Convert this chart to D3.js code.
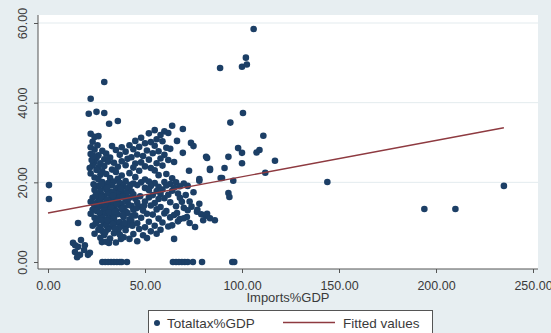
<!DOCTYPE html>
<html>
<head>
<meta charset="utf-8">
<script src="https://cdn.jsdelivr.net/npm/d3@7"></script>
<style>
  html, body { margin: 0; padding: 0; background: #e7eef1; }
  svg { display: block; font-family: Arial, "Liberation Sans", sans-serif; }
</style>
</head>
<body>
<svg id="chart" width="551" height="333"></svg>
<script>
// Axis ticks
const xTicks = [0, 50, 100, 150, 200, 250];
const yTicks = [0, 20, 40, 60];
const gridTicks = [20, 40, 60];

// Observations: [Imports%GDP, Totaltax%GDP]
const observations = [
  // sparse and outlying countries
  [0.5,19.3],[0.5,15.8],
  [29,45.2],[22,41],[21,37.2],[25,37.7],[29,37.4],[31.5,34.7],[36,35.4],
  [22,32.2],[24,31.4],[26,31.6],
  [106,58.5],[102,51.3],[100,49],[102.5,49.6],[88.7,48.7],
  [100.5,37.4],[94,35],[111,31.7],[98,28.6],[100,27.4],[109,28.1],[107.5,27.5],
  [82,26.1],[93,26.4],[100,24.8],[117,25.4],[83.5,23.1],[91,23.6],[112,22.4],
  [89,21.1],[95.5,20.4],[78,20.4],[144,20.1],[93,17.3],[93.5,16.3],
  [81.5,11.6],[83.5,11],[86,10.5],[194,13.3],[210,13.3],[235,19.1],
  [64,34.2],[69.5,33.4],[66.5,30.4],[73.7,29.9],[75,29.1],[81.5,26.4],[69.5,27.4],
  [83.5,23.4],[72.7,22.9],[78,20.8],[89.7,21.1],
  [15.5,9.8],[65,5.8],[37.6,5.8],[31.4,4.8],[27.8,5],
  [66.5,12.3],[71.6,11.3],[76.8,12.6],[75.8,8.8],[80,10.5],
  [72,19.1],[75,17.5],[68,16.1],[73,15.2],[78,14.6],[70,13.6],
  // low-tax group
  [12.9,4.8],[14,4.2],[15.5,3.8],[13.9,2.5],[16.5,1.8],[18.6,3],[20.6,1.8],
  [17,5.5],[21.6,2.3],[15,1.2],[19,4.2],
  // zero tax records
  [28,0],[29.5,0],[31,0],[32.5,0],[34,0],[35.5,0],[37,0],[38,0],[40.7,0],
  [64.4,0],[66,0],[67.5,0],[69,0],[70.5,0],[72,0],[74.7,0],[79.4,0],[95,0],[96,0],
  // upper group
  [55,33.1],[60,32.8],
  [52,32.3],[58,31.9],[62,32.4],
  [48,31.2],[56,30.8],
  [23,30.2],[45,30.4],[50,29.8],[53,30.1],[59,30.3],
  [33,29.1],[38,28.8],[42,29.3],[47,28.9],[55,29.2],[61,28.7],
  [24,28.2],[28,27.9],[35,28.1],[40,27.7],[44,28.3],[51,28.0],[57,27.8],[63,28.4],
  [22,27.1],[26,26.8],[30,27.2],[37,26.9],[46,27.0],[49,26.6],[54,27.3],[60,26.9],
  [25,26.1],[29,25.8],[32,26.2],[41,25.9],[43,26.3],[52,25.7],[58,26.0],[62,25.6],
  [24,25.1],[27,24.8],[31,25.2],[34,24.9],[38,25.3],[45,24.7],[48,25.0],[56,24.8],[65,25.1],
  [23,24.2],[26,23.8],[29,24.1],[36,23.9],[40,24.3],[44,23.7],[50,24.0],[53,23.6],[59,24.2],
  [25,23.1],[28,22.8],[33,23.2],[35,22.6],[47,22.9],[55,23.0],
  [22,22.2],[27,21.9],[30,22.1],[38,21.7],[42,22.3],[57,21.8],[61,22.1],
  [24,21.2],[26,20.8],[32,21.1],[36,20.9],[45,21.3],[50,20.7],[64,21.0],
  [22.5,25.6],[23.5,26.6],[21.5,23.6],[22,28.8],[25.5,29.3],
  // main group
  [28,20.1],[31,19.8],[34,20.2],[37,19.9],[40,20.3],[44,19.7],[48,20.0],[52,20.2],[55,19.8],[60,20.1],[63,19.6],[66,20.0],[70,19.7],
  [26,19.1],[29,18.9],[33,19.2],[36,18.7],[39,19.0],[42,18.8],[46,19.3],[50,18.6],[53,19.1],[57,18.9],[61,19.2],[65,18.7],[68,19.0],
  [24,18.1],[27,17.8],[30,18.2],[32,17.6],[35,18.0],[38,17.9],[41,18.3],[43,17.7],[52,18.1],[56,17.8],[59,18.2],[64,17.9],
  [25,17.1],[28,16.8],[31,17.2],[34,16.9],[36,17.3],[39,16.7],[44,17.0],[54,16.8],[58,17.1],[62,16.9],[67,17.2],[71,16.8],
  [23,16.1],[26,15.9],[29,16.2],[32,15.8],[35,16.0],[37,16.3],[40,15.7],[42,16.1],[45,15.9],[52,16.2],[57,15.8],[60,16.0],
  [22,15.1],[25,14.8],[27,15.2],[30,14.9],[33,15.0],[36,15.3],[38,14.7],[41,15.1],[46,14.9],[50,15.2],[55,14.8],[63,15.0],[69,15.1],
  [24,14.1],[26,13.8],[28,14.2],[31,13.9],[34,14.0],[37,14.3],[39,13.7],[43,14.1],[47,13.9],[53,14.2],[58,13.8],[66,14.0],[74,13.9],
  [23,13.1],[25,12.8],[29,13.2],[32,12.9],[35,13.0],[38,13.3],[40,12.7],[44,13.1],[49,12.9],[56,13.2],[61,12.8],[72,13.0],[77,13.1],
  [22,12.1],[27,11.9],[30,12.2],[33,11.8],[36,12.0],[41,12.3],[45,11.7],[51,12.1],[54,11.9],[60,12.2],[65,11.8],[79,12.0],[82,12.1],
  [24,11.1],[26,10.8],[28,11.2],[31,10.9],[34,11.0],[39,11.3],[42,10.7],[48,11.1],[57,10.9],[63,11.2],[68,10.8],[70,11.0],
  [25,10.1],[29,9.8],[32,10.2],[35,9.9],[37,10.0],[43,10.3],[46,9.7],[52,10.1],[59,9.9],[67,10.2],[73,9.8],
  [23,9.1],[27,8.8],[30,9.2],[33,8.9],[38,9.0],[41,9.3],[50,8.7],[55,9.1],[62,8.9],[64,9.2],
  [26,8.1],[28,7.8],[31,8.2],[36,7.9],[40,8.0],[47,8.3],[53,7.7],[58,8.1],
  [24,7.1],[29,6.8],[34,7.2],[37,6.9],[44,7.0],[49,6.7],[56,7.1],
  [27,6.1],[32,5.9],[39,6.2],[42,5.8],[51,6.0],
  [30,5.1],[35,4.9],[46,5.2],
  [23.5,19.5],[27.5,19.6],[30.5,18.6],[33.5,17.5],[37.5,18.5],[40.5,17.2],[42.5,19.4],
  [24.5,16.6],[27.5,16.3],[30.5,15.6],[33.5,16.6],[38.5,16.4],[41.5,14.3],[23.5,14.6],
  [29.5,14.4],[32.5,13.6],[35.5,14.5],[26.5,12.4],[31.5,12.5],[34.5,12.6],[38.5,11.8],
  [43.5,11.6],[24.5,9.6],[27.5,10.4],[30.5,10.5],[33.5,9.5],[36.5,8.5],[39.5,9.8],
  [29.5,7.5],[34.5,8.4],[45.5,13.5],[47.5,16.5],[49.5,14.1],[43.5,9.1]
];

// Linear fit (endpoints over the observed Imports%GDP range)
const fitImports = [0, 235];
const fitTotaltax = [12.3, 33.7];

const seriesLabels = ["Totaltax%GDP", "Fitted values"];
const xTitle = "Imports%GDP";

const markerColor = "#1c3f66";
const fitColor = "#8e3a40";
const axisColor = "#555";
const textColor = "#3a3a3a";

const svg = d3.select("#chart");

const plot = { left: 38, right: 538, top: 15, bottom: 269 };
const x = d3.scaleLinear().domain([0, 250]).range([48, 533]);
const y = d3.scaleLinear().domain([0, 60]).range([262, 23]);

// plot region
svg.append("rect")
  .attr("x", plot.left).attr("y", plot.top)
  .attr("width", plot.right - plot.left).attr("height", plot.bottom - plot.top)
  .attr("fill", "#ffffff");

// horizontal grid
svg.append("g").selectAll("line").data(gridTicks).join("line")
  .attr("x1", plot.left).attr("x2", plot.right)
  .attr("y1", d => y(d)).attr("y2", d => y(d))
  .attr("stroke", "#e3ebee").attr("stroke-width", 1);

// markers
svg.append("g").selectAll("circle").data(observations).join("circle")
  .attr("cx", d => x(d[0])).attr("cy", d => y(d[1]))
  .attr("r", 3.3)
  .attr("fill", markerColor);

// fitted line
const fitData = fitImports.map((v, i) => [v, fitTotaltax[i]]);
svg.append("path")
  .datum(fitData)
  .attr("d", d3.line().x(d => x(d[0])).y(d => y(d[1])))
  .attr("fill", "none").attr("stroke", fitColor).attr("stroke-width", 1.3);

// x axis
const xAxis = svg.append("g")
  .attr("transform", `translate(0,${plot.bottom})`)
  .call(d3.axisBottom(x).tickValues(xTicks).tickFormat(d3.format(".2f"))
    .tickSize(4).tickPadding(8));
xAxis.select(".domain").remove();
xAxis.selectAll(".tick line").attr("stroke", axisColor);
xAxis.selectAll(".tick text")
  .attr("fill", textColor).style("font-size", "12.5px")
  .style("font-family", "Arial, 'Liberation Sans', sans-serif");
svg.append("line")
  .attr("x1", plot.left).attr("x2", plot.right)
  .attr("y1", plot.bottom).attr("y2", plot.bottom)
  .attr("stroke", axisColor).attr("stroke-width", 1);

// y axis
const yAxis = svg.append("g")
  .attr("transform", `translate(${plot.left},0)`)
  .call(d3.axisLeft(y).tickValues(yTicks).tickFormat(d3.format(".2f")).tickSize(4));
yAxis.select(".domain").remove();
yAxis.selectAll(".tick line").attr("stroke", axisColor);
yAxis.selectAll(".tick text")
  .attr("transform", "rotate(-90)")
  .attr("x", 0).attr("y", -11).attr("dy", 0)
  .attr("text-anchor", "middle")
  .attr("fill", textColor).style("font-size", "12.5px")
  .style("font-family", "Arial, 'Liberation Sans', sans-serif");
svg.append("line")
  .attr("x1", plot.left).attr("x2", plot.left)
  .attr("y1", plot.top).attr("y2", plot.bottom)
  .attr("stroke", axisColor).attr("stroke-width", 1);

// x axis title
svg.append("text")
  .attr("x", (plot.left + plot.right) / 2).attr("y", 301.5)
  .attr("text-anchor", "middle")
  .attr("fill", textColor).style("font-size", "13px")
  .text(xTitle);

// legend
const legend = svg.append("g");
legend.append("rect")
  .attr("x", 148.5).attr("y", 310.5).attr("width", 284).attr("height", 30)
  .attr("fill", "#ffffff").attr("stroke", axisColor).attr("stroke-width", 1);
legend.append("circle")
  .attr("cx", 157).attr("cy", 323).attr("r", 3).attr("fill", markerColor);
legend.append("text")
  .attr("x", 167).attr("y", 327.5)
  .attr("fill", textColor).style("font-size", "13.5px")
  .text(seriesLabels[0]);
legend.append("line")
  .attr("x1", 283).attr("x2", 335).attr("y1", 322.5).attr("y2", 322.5)
  .attr("stroke", fitColor).attr("stroke-width", 1.3);
legend.append("text")
  .attr("x", 343).attr("y", 327.5)
  .attr("fill", textColor).style("font-size", "13.5px")
  .text(seriesLabels[1]);
</script>
</body>
</html>
